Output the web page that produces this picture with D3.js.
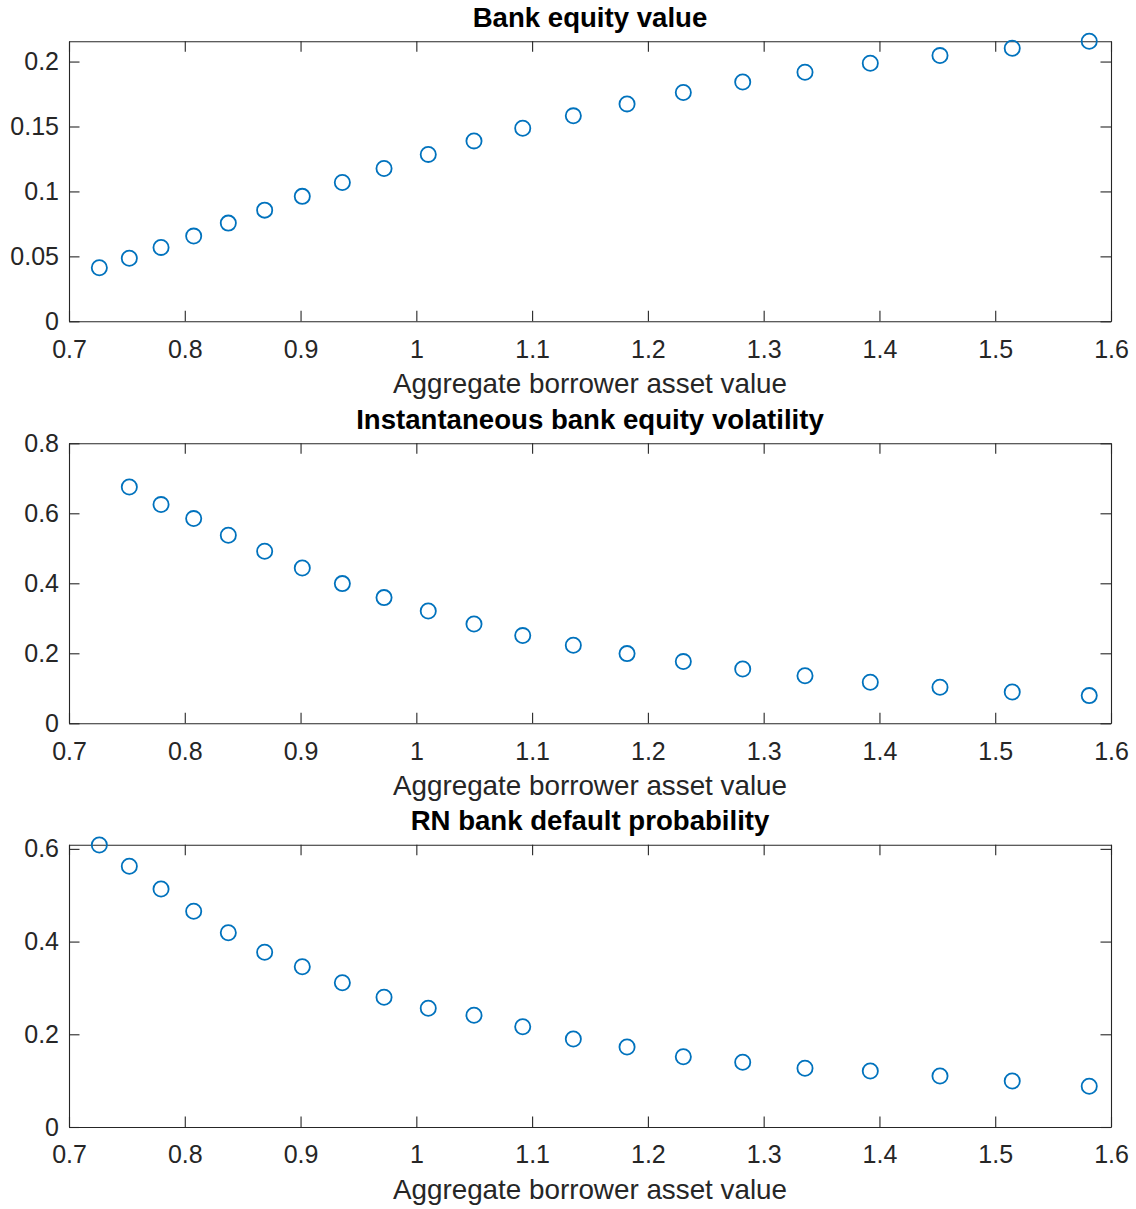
<!DOCTYPE html>
<html>
<head>
<meta charset="utf-8">
<script src="https://cdn.jsdelivr.net/npm/d3@7"></script>
<style>
  body { margin: 0; background: #fff; }
  svg { display: block; }
</style>
</head>
<body>
<div id="chart-area"></div>
<script>
// values
var assetVals = [0.7262, 0.7521, 0.7795, 0.8077, 0.8376, 0.8690, 0.9015, 0.9361, 0.9721, 1.0103,
                 1.0498, 1.0919, 1.1356, 1.1820, 1.2306, 1.2819, 1.3357, 1.3921, 1.4523, 1.5147, 1.5812];

var equityVals = [0.0412, 0.0485, 0.0569, 0.0656, 0.0756, 0.0856, 0.0962, 0.1069, 0.1177, 0.1285,
                  0.1389, 0.1487, 0.1582, 0.1674, 0.1762, 0.1843, 0.1918, 0.1987, 0.2046, 0.2102, 0.2156];

// first point lies above the axis limit and is not shown
var volVals = [null, 0.6751, 0.6249, 0.5849, 0.5371, 0.4914, 0.4437, 0.3991, 0.3591, 0.3209,
               0.2837, 0.2506, 0.2229, 0.1991, 0.1763, 0.1551, 0.1357, 0.1171, 0.1029, 0.0894, 0.0791];

var pdVals = [0.6084, 0.5625, 0.5135, 0.4654, 0.4192, 0.3769, 0.3458, 0.3113, 0.2798, 0.2561,
              0.2410, 0.2164, 0.1899, 0.1726, 0.1517, 0.1396, 0.1266, 0.1208, 0.1100, 0.0992, 0.0878];

var titles = ["Bank equity value", "Instantaneous bank equity volatility", "RN bank default probability"];
var xLabel = "Aggregate borrower asset value";

var xTicks = [0.7, 0.8, 0.9, 1, 1.1, 1.2, 1.3, 1.4, 1.5, 1.6];
var yTicksEquity = [0, 0.05, 0.1, 0.15, 0.2];
var yTicksVol = [0, 0.2, 0.4, 0.6, 0.8];
var yTicksPd = [0, 0.2, 0.4, 0.6];

var yMaxEquity = 0.2156;
var yMaxVol = 0.8;
var yMaxPd = 0.609;

var panels = [
	{title: titles[0], vals: equityVals, ticks: yTicksEquity, ymax: yMaxEquity, top: 41.3, h: 280},
	{title: titles[1], vals: volVals, ticks: yTicksVol, ymax: yMaxVol, top: 443.3, h: 280},
	{title: titles[2], vals: pdVals, ticks: yTicksPd, ymax: yMaxPd, top: 844.7, h: 282.3}
];

var left = 69, width = 1042;
var font = "'Liberation Sans', Arial, Helvetica, sans-serif";
var axisColor = "#262626";
var markerColor = "#0072BD";
var tickLen = 10.5;

var svg = d3.select("#chart-area")
	.append("svg")
		.attr("width", 1136)
		.attr("height", 1209);

var fmt = function(d){ return String(+d.toFixed(4)); };

panels.forEach(function(p){
	var g = svg.append("g")
		.attr("transform", "translate(" + left + "," + p.top + ")");

	var x = d3.scaleLinear().domain([0.7, 1.6]).range([0, width]);
	var y = d3.scaleLinear().domain([0, p.ymax]).range([p.h, 0]);

	var styleAxis = function(sel){
		sel.attr("font-family", font)
			.attr("font-size", 25)
			.attr("color", axisColor);
		sel.select(".domain").attr("stroke-width", 1.1);
		sel.selectAll(".tick line").attr("stroke-width", 1.1);
		sel.selectAll(".tick text").attr("fill", axisColor);
	};

	g.append("g")
		.attr("transform", "translate(0," + p.h + ")")
		.call(d3.axisBottom(x).tickValues(xTicks).tickFormat(fmt)
			.tickSizeInner(-tickLen).tickSizeOuter(0).tickPadding(18.5))
		.call(styleAxis);

	g.append("g")
		.call(d3.axisTop(x).tickValues(xTicks).tickFormat("")
			.tickSizeInner(-tickLen).tickSizeOuter(0))
		.call(styleAxis);

	g.append("g")
		.call(d3.axisLeft(y).tickValues(p.ticks).tickFormat(fmt)
			.tickSizeInner(-tickLen).tickSizeOuter(0).tickPadding(10))
		.call(styleAxis);

	g.append("g")
		.attr("transform", "translate(" + width + ",0)")
		.call(d3.axisRight(y).tickValues(p.ticks).tickFormat("")
			.tickSizeInner(-tickLen).tickSizeOuter(0))
		.call(styleAxis);

	var pts = assetVals.map(function(v, i){ return {x: v, y: p.vals[i]}; })
		.filter(function(d){ return d.y != null; });

	g.selectAll("circle")
		.data(pts)
		.enter()
		.append("circle")
			.attr("cx", function(d){ return x(d.x); })
			.attr("cy", function(d){ return y(d.y); })
			.attr("r", 7.6)
			.attr("fill", "none")
			.attr("stroke", markerColor)
			.attr("stroke-width", 1.8);

	g.append("text")
		.attr("x", width / 2)
		.attr("y", -14.5)
		.attr("text-anchor", "middle")
		.attr("font-family", font)
		.attr("font-size", 27.6)
		.attr("font-weight", "bold")
		.attr("fill", "#000")
		.text(p.title);

	g.append("text")
		.attr("x", width / 2)
		.attr("y", p.h + 72)
		.attr("text-anchor", "middle")
		.attr("font-family", font)
		.attr("font-size", 27.8)
		.attr("fill", axisColor)
		.text(xLabel);
});
</script>
</body>
</html>
